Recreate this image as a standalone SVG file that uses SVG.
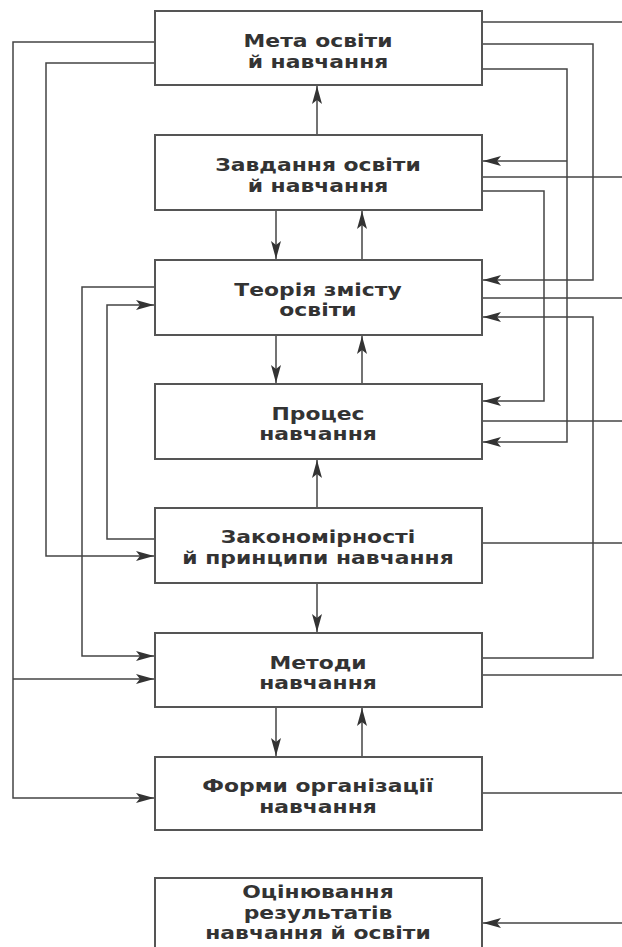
<svg xmlns="http://www.w3.org/2000/svg" width="622" height="947" viewBox="0 0 622 947">
<style>
.box{fill:#fff;stroke:#555;stroke-width:2}
.ln{fill:none;stroke:#444;stroke-width:1.5}
.t{font-family:"DejaVu Sans","Liberation Sans",sans-serif;font-size:17.5px;font-weight:bold;fill:#333;text-anchor:middle}
</style>
<defs>
<marker id="a" viewBox="0 0 18 10" refX="18" refY="5" markerWidth="18" markerHeight="10" markerUnits="userSpaceOnUse" orient="auto">
<path d="M0,0 L18,5 L0,10 L4,5 Z" fill="#333"/>
</marker>
</defs>
<rect width="622" height="947" fill="#fff"/>
<g id="connectors">
<path class="ln" d="M155,42 H13 V798 H154" marker-end="url(#a)"/>
<path class="ln" d="M13,679 H154" marker-end="url(#a)"/>
<path class="ln" d="M155,63 H46 V556 H154" marker-end="url(#a)"/>
<path class="ln" d="M155,287 H82 V656 H154" marker-end="url(#a)"/>
<path class="ln" d="M155,539 H107 V305 H154" marker-end="url(#a)"/>
<path class="ln" d="M482,22 H622"/>
<path class="ln" d="M482,44 H593 V280 H483" marker-end="url(#a)"/>
<path class="ln" d="M482,69 H567 V442 H483" marker-end="url(#a)"/>
<path class="ln" d="M567,161 H483" marker-end="url(#a)"/>
<path class="ln" d="M482,177 H622"/>
<path class="ln" d="M482,191 H544 V401 H483" marker-end="url(#a)"/>
<path class="ln" d="M482,298 H622"/>
<path class="ln" d="M482,658 H593 V317 H483" marker-end="url(#a)"/>
<path class="ln" d="M482,421 H622"/>
<path class="ln" d="M482,543 H622"/>
<path class="ln" d="M482,675 H622"/>
<path class="ln" d="M482,793 H622"/>
<path class="ln" d="M622,923 H483" marker-end="url(#a)"/>
<path class="ln" d="M317,135 V86" marker-end="url(#a)"/>
<path class="ln" d="M276,210 V259" marker-end="url(#a)"/>
<path class="ln" d="M362,260 V211" marker-end="url(#a)"/>
<path class="ln" d="M276,335 V383" marker-end="url(#a)"/>
<path class="ln" d="M362,384 V336" marker-end="url(#a)"/>
<path class="ln" d="M317,508 V460" marker-end="url(#a)"/>
<path class="ln" d="M317,583 V632" marker-end="url(#a)"/>
<path class="ln" d="M276,707 V756" marker-end="url(#a)"/>
<path class="ln" d="M362,757 V708" marker-end="url(#a)"/>
</g>
<g id="n1"><rect class="box" x="155" y="11" width="327" height="74"/><text class="t" transform="translate(318,47) scale(1.25,1)">Мета освіти</text><text class="t" transform="translate(318,67.5) scale(1.25,1)">й навчання</text></g>
<g id="n2"><rect class="box" x="155" y="135" width="327" height="75"/><text class="t" transform="translate(318,171) scale(1.25,1)">Завдання освіти</text><text class="t" transform="translate(318,191.5) scale(1.25,1)">й навчання</text></g>
<g id="n3"><rect class="box" x="155" y="260" width="327" height="75"/><text class="t" transform="translate(318,295.5) scale(1.25,1)">Теорія змісту</text><text class="t" transform="translate(318,316) scale(1.25,1)">освіти</text></g>
<g id="n4"><rect class="box" x="155" y="384" width="327" height="75"/><text class="t" transform="translate(318,419.5) scale(1.25,1)">Процес</text><text class="t" transform="translate(318,440) scale(1.25,1)">навчання</text></g>
<g id="n5"><rect class="box" x="155" y="508" width="327" height="75"/><text class="t" transform="translate(318,543) scale(1.25,1)">Закономірності</text><text class="t" transform="translate(318,563.5) scale(1.25,1)">й принципи навчання</text></g>
<g id="n6"><rect class="box" x="155" y="633" width="327" height="74"/><text class="t" transform="translate(318,668.5) scale(1.25,1)">Методи</text><text class="t" transform="translate(318,689) scale(1.25,1)">навчання</text></g>
<g id="n7"><rect class="box" x="155" y="757" width="327" height="73"/><text class="t" transform="translate(318,792) scale(1.25,1)">Форми організації</text><text class="t" transform="translate(318,812.5) scale(1.25,1)">навчання</text></g>
<g id="n8"><rect class="box" x="155" y="878" width="327" height="80"/><text class="t" transform="translate(318,898) scale(1.25,1)">Оцінювання</text><text class="t" transform="translate(318,918.5) scale(1.25,1)">результатів</text><text class="t" transform="translate(318,939) scale(1.25,1)">навчання й освіти</text></g>
</svg>
